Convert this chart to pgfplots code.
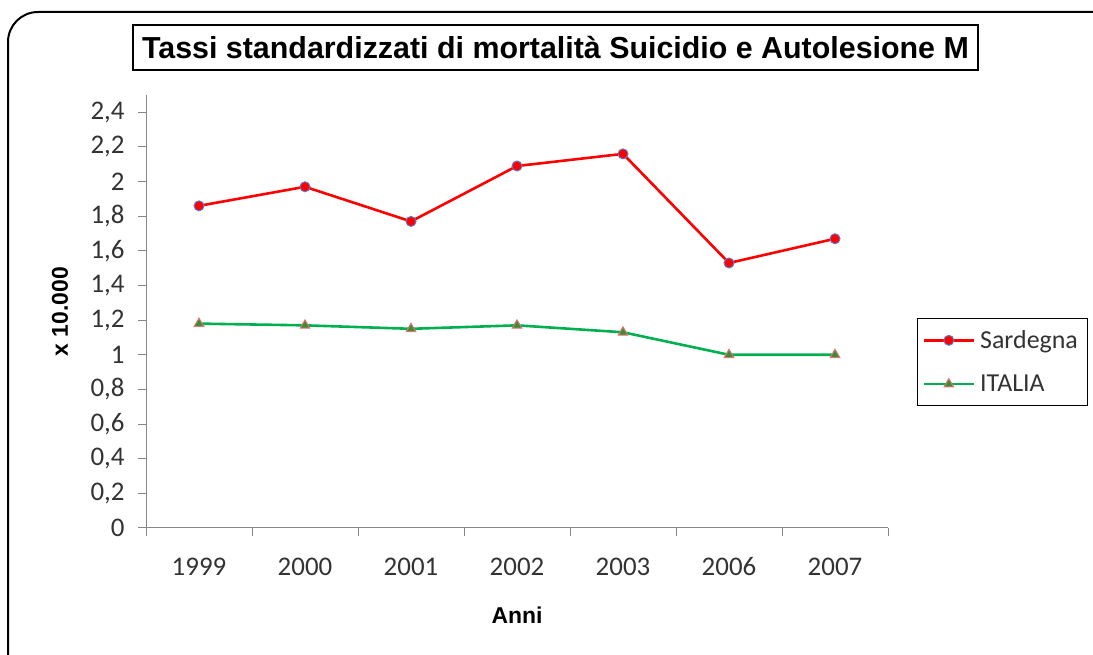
\documentclass[border=0pt]{standalone}
\usepackage{pgfplots}
\pgfplotsset{compat=1.18}
\usepackage{fontspec}
\setmainfont{Carlito}
\newfontfamily\arialfont{Liberation Sans}
\definecolor{sred}{RGB}{255,0,0}
\definecolor{sgreen}{RGB}{0,176,80}
\definecolor{axgray}{RGB}{134,134,134}
\definecolor{mkblue}{RGB}{100,120,200}
\definecolor{mkred}{RGB}{220,120,110}
\definecolor{mkgreen}{RGB}{60,140,60}
\pgfplotstableread{
x y
0 1.86
1 1.97
2 1.77
3 2.09
4 2.16
5 1.53
6 1.67
}\sard
\pgfplotstableread{
x y
0 1.18
1 1.17
2 1.15
3 1.17
4 1.13
5 1.00
6 1.00
}\ital
\begin{document}
\begin{tikzpicture}[x=1bp,y=1bp]
\useasboundingbox (0,0) rectangle (1093,655);
\draw[line width=2bp, rounded corners=30bp] (8,-40) rectangle (1130,643);
\node[draw, line width=2bp, minimum width=845bp, minimum height=45bp, inner sep=0pt, font=\arialfont\bfseries\fontsize{30.5}{33}\selectfont] at (555.5,607.5) {Tassi standardizzati di mortalità Suicidio e Autolesione M};
\begin{axis}[
  at={(146bp,127bp)}, anchor=south west,
  scale only axis, width=742bp, height=433bp,
  xmin=-0.5, xmax=6.5, ymin=0, ymax=2.5,
  axis x line*=bottom, axis y line*=left,
  axis line style={draw=axgray, line width=1bp, -},
  xtick={0,...,6},
  xticklabels={1999,2000,2001,2002,2003,2006,2007},
  minor xtick={-0.5,0.5,...,6.5},
  major x tick style={draw=none},
  minor tick style={draw=axgray, line width=1bp},
  ytick={0,0.2,...,2.41},
  y tick style={draw=axgray, line width=1bp},
  tick align=outside,
  major tick length=8bp, minor tick length=8bp,
  ticklabel style={font=\fontsize{27}{29}\selectfont, text=black!80},
  xticklabel style={anchor=base, yshift=-40bp},
  yticklabel style={xshift=-10bp, /pgf/number format/.cd, use comma, fixed, assume math mode=true},
  scaled y ticks=false,
  xlabel={Anni}, ylabel={x 10.000},
  label style={font=\arialfont\bfseries\fontsize{23}{26}\selectfont},
  xlabel style={at={(axis description cs:0.5,0)}, anchor=center, yshift=-87bp},
  ylabel style={at={(axis description cs:0,0.5)}, anchor=center, yshift=86bp},
  legend style={at={(1.039,0.485)}, anchor=north west, draw=black, line width=1.2bp,
    font=\fontsize{26}{28}\selectfont, text=black!80, inner xsep=5bp, inner ysep=10bp,
    row sep=21bp, nodes={inner xsep=5bp}},
  legend cell align=left,
  legend image code/.code={\draw[mark repeat=2,mark phase=2,#1] plot coordinates {(0bp,0bp) (25bp,0bp) (50bp,0bp)};},
  clip=false,
]
\addplot[sred, line width=2.6bp, mark=*, mark size=5bp, mark options={fill=sred, draw=mkblue, line width=1bp}] table {\sard};
\addlegendentry{Sardegna}
\addplot[sgreen, line width=2.6bp, mark=triangle*, mark size=5.5bp, mark options={fill=mkgreen, draw=mkred, line width=1bp}] table {\ital};
\addlegendentry{ITALIA}
\end{axis}
\end{tikzpicture}
\end{document}
